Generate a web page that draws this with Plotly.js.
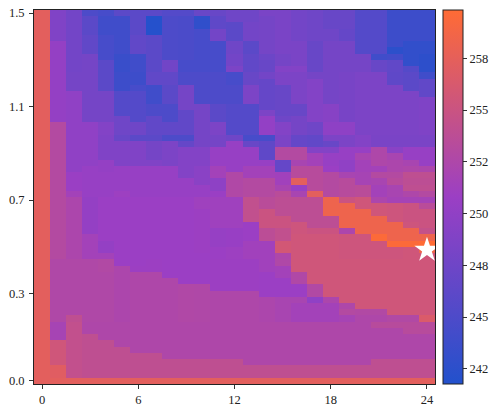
<!DOCTYPE html>
<html><head><meta charset="utf-8">
<script src="https://cdn.plot.ly/plotly-3.0.1.min.js"></script>
<style>html,body{margin:0;padding:0;background:#fff}</style></head>
<body><div id="chart" style="width:498px;height:413px"></div>
<script>
const xTickVals=[0,6,12,18,24];
const yTickVals=[0,14,29,44,59];
const yTickText=["0.0","0.3","0.7","1.1","1.5"];
const cbTickVals=[242.5,245,247.5,250,252.5,255,257.5];
const cbTickText=["242","245","248","250","252","255","258"];
const starX=[24];
const starY=[21];
const rowsTopDown=[
[257.3,248.8,247.8,245,244.5,246,246,246,245.5,245.5,247,247,247.5,247.5,248.3,248.3,247.8,247.5,247,247,245.5,245.5,243.8,243.8,243.8],
[257.3,248.8,247.8,246,244,244,246,242,245,244.8,242.8,246.3,247.5,247.5,248,248.3,247.8,247.5,247,247,245.5,245.5,243.8,243.8,243.8],
[257.3,248.8,247.8,246,244,244,246,242,245,244.8,242.8,246.3,246,247.8,248,248.3,247.8,247.5,247,247,245.5,245.5,243.8,243.8,243.8],
[257.3,248.8,247.8,246,244,244,246,242,245,244.8,244.5,247.8,246,247.8,248,248.3,247.8,247.5,247.5,246.8,245.5,245.5,243.8,243.8,243.8],
[257.3,248.8,247.8,246.5,244.5,244,246.5,246,245,244.8,244.5,247.8,246,247.8,248,248.3,247.8,247.5,247.5,246.8,245.5,245.5,243.8,243.8,243.8],
[257.3,250.3,247.8,246.5,244.5,244,246.5,246,245,244.8,244.5,244.5,247.5,246,248,248.3,248.3,247,248,248,245.5,245.5,243.8,243,243],
[257.3,250.3,247.8,246.5,244.5,244,246.5,246,245,244.8,244.5,244.5,247.5,246,248,248.3,248.3,247,248,248,245.5,245.5,242.5,243,243],
[257.3,250.3,247.8,248,244.5,243.5,244,246,245,244.8,244.5,244.5,247.8,246.5,247.3,248,248.3,247,248,248,248,244,244.2,243,242.6],
[257.3,250.3,247.8,248,246,243.5,244,246,247.7,244.5,244.5,244.5,247.8,246.5,247,248,248.3,247,248,248,248,247,246.5,243,242.6],
[257.3,250.3,247.8,248,246,243.5,244,246,247.7,244.5,244.5,244.5,248.5,246.5,247,249,249,247,248,248,248,247,246.5,245.5,242.6],
[257.3,250.3,248,248,246,243.8,243.8,246.5,246.5,245,245,245,244.5,247,247.8,248.5,248.5,248,248,248.2,248.5,248.5,246.3,246,244],
[257.3,250.3,248,248,246,243.8,243.8,246.5,246.5,245,245,245,244.5,247,246.8,248.5,248.5,249,248,248.2,248.5,248.5,246.3,246,246.5],
[257.3,250.3,248,248,246,243.8,244.5,244,246,248,245,245,245,248.5,246.8,247,248.5,249,248,248.2,248.5,248.5,248.5,246,246.5],
[257.3,250.3,250,248,248,245.5,245.5,244,246,248,245,245,245,248.5,246.8,247,248.5,249,248,248.2,248.5,248.5,248.5,248.5,246.5],
[257.3,250.3,250,248,248,245.5,245.5,244,246,248,245,245,245,248.5,246.8,247,248.5,249,248,248.2,248.5,248.5,248.5,248.5,248.7],
[257.3,250.3,250,248,248,245.5,245.5,245,245,248,248,246,245.5,245.5,246.8,247,247,249,249.3,248.2,248.5,248.5,248.5,248.5,248.7],
[257.3,250.3,250,248,248,245.5,245.5,245,245,246.5,248,246,245.5,245.5,248.5,247,247,249,249.3,248.2,248.5,248.5,248.5,248.5,248.7],
[257.3,250.3,250,248,248,247.5,245.5,246.5,245,246.5,248,246,245.5,245.5,250.2,247.5,248,249,249.3,248.2,248.5,248.5,248.5,248.5,248.7],
[257.3,253,250,250,249,247.5,247.5,246.5,246.5,246.5,248,248.5,245.5,245.5,250.2,249,248,247.5,249.8,249.8,248.5,248.5,248.5,248.5,248.7],
[257.3,253,250,250,249,247.5,247.5,246.5,246.5,246.5,248,248.5,245.5,245.5,250.2,249,248,247.5,249.8,249.8,248.5,248.5,248.5,248.5,248.7],
[257.3,253,250,250,248.8,247,246,246,245,245,248,248,247.5,244.5,244.5,248.5,246.8,246.5,248.5,248.5,249,248.3,248.3,248.3,248.3],
[257.3,253,250,250,248.8,248.8,248.8,248,248.5,246.8,248,248,250.5,247,246.3,248.5,246.8,246.5,247,248.5,249,248.3,248.3,248.3,248.3],
[257.3,253,250,250,248.8,248.8,248.8,248,248.5,249,249,250.5,250.5,250.5,246.3,253,253,249,249,250.5,250.5,252.5,249.5,250.5,250.5],
[257.3,253,250,250,248.8,248.8,248.8,248,248.5,249,249,250.5,250.5,250.5,246.3,253,253,251.5,250.5,250.5,252,252.5,252,250.5,250.5],
[257.3,253,250,250,250.3,248.8,248.8,248.8,248.5,249,249,250.5,250.5,250.5,250.5,246.8,252,251.5,250.5,250,251.5,252.5,252.3,252,250.5],
[257.3,253,250,250.5,250.3,250.5,250.5,250.5,250.5,249,249.5,251.5,250.5,251.5,251.5,246.8,253.3,253.3,250.8,250,251.5,251.5,252.3,252.5,252.3],
[257.3,253,250.7,250.5,250.5,250.5,250.5,250.5,250.5,249,249.5,251.5,252.7,251.5,251.5,251.3,253.3,253.3,253,252,251.8,253,253,254,254],
[257.3,253,250.7,250.5,250.5,250.5,250.5,250.5,250.5,250.5,249.5,249.8,252.7,253,253,251.3,257.3,253.3,253,253.3,251.8,252,253.3,253.8,253.8],
[257.3,253,250.7,250.5,250.5,250.5,250.5,250.5,250.5,250.5,250.5,249.8,252.7,253,253,252,250.5,253.3,253,253.3,253.5,251.5,252,254,254],
[257.3,253,251.5,250.5,250.5,251,250.5,250.5,250.5,250.5,250.5,250.7,252.7,253,253,253.5,252,257.3,253,253.3,253.5,251.5,252,252.5,253],
[257.3,253,252.3,250.3,250.8,250.8,250.8,250.8,250.8,250.8,251.2,251.2,251.2,254.2,253.5,253.8,253.8,253.8,258.3,255,255.5,252.3,251.7,251.7,251.7],
[257.3,253,252.3,250.3,250.8,250.8,250.8,250.8,250.8,250.8,251.2,251.2,251.2,254.2,253.5,253.8,253.8,253.8,258.3,258.3,255.5,255.5,255.3,255,253.5],
[257.3,253,252.3,250.3,250.8,250.8,250.8,250.8,250.8,250.8,250.9,251.2,251.2,254.2,255,253.8,253.8,253.8,258.3,258.3,258.3,255.5,255.3,255,255],
[257.3,253,252.3,250.3,250.8,250.8,250.8,250.8,250.8,250.8,250.9,251.2,251.2,254.2,255,255,253.8,253.8,253.8,258.3,258.3,258.3,255.3,255,255],
[257.3,253,252.3,250.3,250.8,250.8,250.8,250.8,250.8,250.8,250.9,251.2,251.2,250.8,255,255,255.3,253.8,253.8,258.3,258.3,258.3,258.3,255.3,255],
[257.3,253,252.3,250.3,250.8,250.8,250.8,250.8,250.8,250.8,250.9,250.4,250.6,250.8,253.7,254.2,255.3,255,255,252.3,258.3,258.3,258.3,258.3,254.5],
[257.3,253,252.3,251.5,250.8,250.8,250.8,250.8,250.8,250.8,250.9,250.4,250.6,250.8,253.7,254.2,255.5,255.5,255.5,255.3,255.3,259.6,258.3,258.3,258.3],
[257.3,253,252.3,251.5,250.3,250.8,250.8,250.8,250.8,250.8,250.9,250.4,250.6,251.3,251.3,255.8,255.5,255.5,255.5,255.3,255.3,255.3,259.6,259.6,259.8],
[257.3,253,252.3,251.5,250.3,250.8,250.8,250.8,250.8,250.8,250.9,250.8,251,251.3,251.3,255.8,255.5,255.5,255.5,255.3,255.3,255.3,255.3,255.5,258.3],
[257.3,253,252.3,251.5,251.5,250.8,250.8,250.8,250.8,250.8,250.8,250.8,251,251.3,251.3,252.5,255.5,255.5,255.5,255.3,255.3,255.3,255.3,255.5,255.5],
[257.3,252.6,252.6,252.6,252.8,250.8,250.8,250.9,250.8,250.8,250.8,250.9,250.9,250.9,251.3,252.6,255.5,255.5,255.5,255.5,255.5,255.5,255.5,255.5,255.5],
[257.3,252.6,252.6,252.6,252.8,252.3,250.9,250.9,250.8,250.8,250.8,250.9,250.9,250.9,251.3,251.5,255.5,255.5,255.5,255.5,255.5,255.5,255.5,255.5,255.5],
[257.3,252.6,252.6,252.6,252.6,252.3,252.5,252.5,250.8,250.8,250.8,250.9,250.9,250.9,250.8,251.5,252.7,255.5,255.5,255.5,255.5,255.5,255.5,255.5,255.5],
[257.3,252.6,252.6,252.6,252.6,252.3,252.5,252.5,252.5,250.8,250.8,250.9,250.9,250.9,250.8,250.8,252.7,255.5,255.5,255.5,255.5,255.5,255.5,255.5,255.5],
[257.3,252.6,252.6,252.6,252.6,252.3,252.5,252.5,252.5,252.7,252.6,250.9,250.9,250.9,250.8,250.8,250.8,252.8,255.5,255.5,255.5,255.5,255.5,255.5,255.5],
[257.3,252.6,252.6,252.6,252.6,252.3,252.5,252.5,252.5,252.7,252.6,252.5,252.5,252.5,250.8,250.8,250.8,252.8,255.5,255.5,255.5,255.5,255.5,255.5,255.5],
[257.3,252.6,252.6,252.6,252.6,252.3,252.5,252.5,252.5,252.7,252.6,252.5,252.5,252.5,252.3,252,252,250,252.3,255.5,255.5,255.5,255.5,255.5,255.5],
[257.3,252.6,252.6,252.6,252.6,252.3,252.5,252.5,252.5,252.7,252.6,252.5,252.5,252.5,252.3,252,251.5,251.5,251.5,252.5,255.5,255.5,255.5,255.5,255.5],
[257.3,252.6,252.6,252.6,252.6,252.3,252.5,252.5,252.5,252.7,252.6,252.5,252.5,252.5,252.3,252,251.5,251.5,251.5,253,252.8,252.8,255.5,255.5,255.5],
[257.3,252.6,254,252.6,252.6,252.3,252.5,252.5,252.5,252.7,252.6,252.5,252.5,252.5,252.3,252,251.5,251.5,251.5,251.8,252.5,252.5,252.8,252.8,256.5],
[257.3,251.8,254.3,252.5,252.5,252.5,252.5,252.5,252.5,252.5,252.5,252.5,252.5,252.5,252.5,252.5,252.5,252.5,252.5,252.5,252.5,253.3,253.3,253.3,253.3],
[257.3,251.8,254.3,252.5,252.5,252.5,252.5,252.5,252.5,252.5,252.5,252.5,252.5,252.5,252.5,252.5,252.5,252.5,252.5,252.5,252.5,252.5,252.5,253.3,253.3],
[257.3,251.8,254.3,254,252.5,252.5,252.5,252.5,252.5,252.5,252.5,252.5,252.5,252.5,252.5,252.5,252.5,252.5,252.5,252.5,252.5,252.5,252.5,252.5,252.5],
[257.3,255.5,254.3,254,254,252.5,252.5,252.5,252.5,252.5,252.5,252.5,252.5,252.5,252.5,252.5,252.5,252.5,252.5,252.5,252.5,252.5,252.5,252.5,252.5],
[257.3,255.5,254.3,254,254,254,252.5,252.5,252.5,252.5,252.5,252.5,252.5,252.5,252.5,252.5,252.5,252.5,252.5,252.5,252.5,252.5,252.5,252.5,252.5],
[257.3,255.5,254.3,254,254,254,254,254,252.5,252.5,252.5,252.5,252.5,252.5,252.5,252.5,252.5,252.5,252.5,252.5,252.5,252.5,252.5,252.5,252.5],
[257.3,255.5,254.3,254,254,254,254,254,254,254,254,254,254,252.5,252.5,252.5,252.5,252.5,252.5,252.5,252.5,254,254,254,254],
[257.3,257,254.3,254,254,254,254,254,254,254,254,254,254,254,254,254,254,254,254,254,254,254,254,254,254],
[257.3,257,254.3,254,254,254,254,254,254,254,254,254,254,254,254,254,254,254,254,254,254,254,254,254,254],
[257.3,257.3,257.3,257.3,257.3,257.3,257.3,257.3,257.3,257.3,257.3,257.3,257.3,257.3,257.3,257.3,257.3,257.3,257.3,257.3,257.3,257.3,257.3,257.3,257.3]
];
const z=rowsTopDown.slice().reverse();
const fontFam='"Liberation Serif", serif';
const heat={type:'heatmap',z:z,zmin:241.77,zmax:259.83,zsmooth:false,hoverinfo:'skip',
 colorscale:[[0,'#2251CC'],[0.5,'#9B3FC4'],[1,'#FF6B35']],
 colorbar:{thicknessmode:'pixels',thickness:20,lenmode:'fraction',len:1,x:1.02,xanchor:'left',xpad:0,y:0,yanchor:'bottom',ypad:0,
  outlinecolor:'#222',outlinewidth:1,tickmode:'array',tickvals:cbTickVals,ticktext:cbTickText,ticks:'outside',ticklen:4,tickwidth:1,tickcolor:'#333',
  tickfont:{family:fontFam,size:12.5,color:'#222'}}};
const star={type:'scatter',mode:'markers',x:starX,y:starY,hoverinfo:'skip',cliponaxis:false,showlegend:false,
 marker:{symbol:'star',size:19,color:'#fff',line:{width:0}}};
const axisStyle={showgrid:false,zeroline:false,showline:true,mirror:true,linecolor:'#222',linewidth:1,ticks:'outside',ticklen:4,tickwidth:1,tickcolor:'#333',
 tickmode:'array',tickfont:{family:fontFam,size:12.5,color:'#222'}};
const layout={width:498,height:413,margin:{l:34,r:62.5,t:9.5,b:29,pad:0,autoexpand:false},paper_bgcolor:'#fff',plot_bgcolor:'#fff',showlegend:false,
 xaxis:Object.assign({},axisStyle,{range:[-0.5,24.5],tickvals:xTickVals,ticktext:xTickVals.map(String)}),
 yaxis:Object.assign({},axisStyle,{range:[-0.5,59.5],tickvals:yTickVals,ticktext:yTickText,ticklabelstandoff:2})};
Plotly.newPlot('chart',[heat,star],layout,{displayModeBar:false,staticPlot:true});
</script></body></html>
